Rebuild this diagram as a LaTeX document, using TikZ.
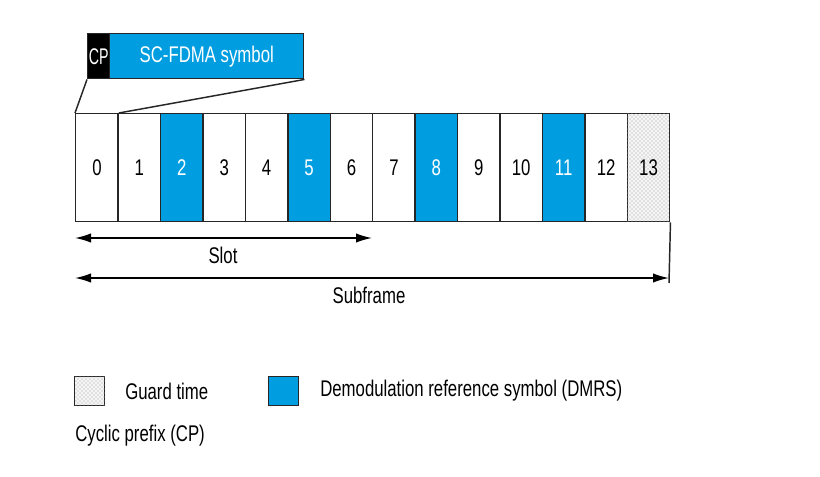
\documentclass[tikz,border=0pt]{standalone}
\usepackage{fontspec}
\setmainfont[FakeStretch=0.74]{Liberation Sans}
\usetikzlibrary{patterns,arrows.meta}
\definecolor{dmrs}{RGB}{0,158,224}
\begin{document}
\begin{tikzpicture}[x=0.75pt,y=-0.75pt,
  font=\fontsize{17}{20}\selectfont,
  cell/.style={draw=black!85,line width=1.1pt,minimum width=42.4*0.75pt,minimum height=108*0.75pt,inner sep=0pt,anchor=north west},
  bluecell/.style={cell,fill=dmrs,text=white},
  guardcell/.style={cell,fill=gray!8,postaction={pattern=crosshatch dots,pattern color=gray!75}},
  arr/.style={line width=1.1pt,{Latex[length=12pt,width=7pt]}-{Latex[length=12pt,width=7pt]}},
  ln/.style={line width=1.1pt,draw=black!85}]
\useasboundingbox (0,0) rectangle (820,477);
% cells
\foreach \i in {0,...,13}{
  \pgfmathsetmacro\xx{75+42.43*\i}
  \ifnum\i=2 \node[bluecell] (c\i) at (\xx,113) {\i};
  \else\ifnum\i=5 \node[bluecell] (c\i) at (\xx,113) {\i};
  \else\ifnum\i=8 \node[bluecell] (c\i) at (\xx,113) {\i};
  \else\ifnum\i=11 \node[bluecell] (c\i) at (\xx,113) {\i};
  \else\ifnum\i=13 \node[guardcell] (c\i) at (\xx,113) {\i};
  \else \node[cell] (c\i) at (\xx,113) {\i};
  \fi\fi\fi\fi\fi
}
% top symbol box
\node[draw=black!85,line width=1.1pt,fill=black,text=white,minimum width=22*0.75pt,minimum height=45*0.75pt,inner sep=0pt,anchor=north west] (cp) at (87,33) {\scalebox{0.85}[1]{CP}};
\node[draw=black!85,line width=1.1pt,fill=dmrs,text=white,minimum width=194*0.75pt,minimum height=45*0.75pt,inner sep=0pt,anchor=north west] (sym) at (109,33) {SC-FDMA symbol};
\draw[ln] (cp.south west) -- (c0.north west);
\draw[ln] (sym.south east) -- (c0.north east);
% arrows
\coordinate (s1) at (75,238);
\coordinate (s2) at (372,238);
\draw[arr] (s1) -- (s2);
\node (slot) at (223,255) {Slot};
\coordinate (f1) at (75,278);
\coordinate (f2) at (669,278);
\draw[arr] (f1) -- (f2);
\coordinate (fv) at (669,283);
\draw[ln] (c13.south east) -- (fv);
\node (sub) at (369,295) {Subframe};
% legend
\node[draw=black!85,line width=1.1pt,fill=gray!8,postaction={pattern=crosshatch dots,pattern color=gray!75},minimum width=30*0.75pt,minimum height=29*0.75pt,inner sep=0pt,anchor=north west] (lg) at (74,376) {};
\node[anchor=west,inner sep=0pt] (lgt) at (125,391) {Guard time};
\node[draw=black!85,line width=1.1pt,fill=dmrs,minimum width=30*0.75pt,minimum height=29*0.75pt,inner sep=0pt,anchor=north west] (ld) at (268,376) {};
\node[anchor=west,inner sep=0pt] (ldt) at (320,391) {Demodulation reference symbol (DMRS)};
\node[anchor=west,inner sep=0pt] (lcp) at (75,436) {Cyclic prefix (CP)};
\end{tikzpicture}
\end{document}
